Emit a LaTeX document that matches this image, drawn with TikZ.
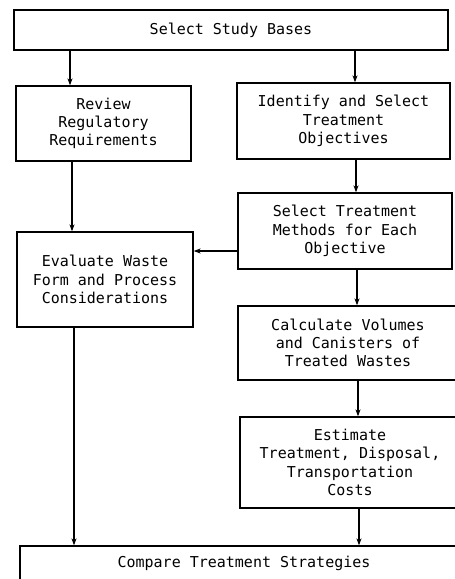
\documentclass[tikz,border=0pt]{standalone}
\usepackage{fontspec}
\setmonofont{DejaVu Sans Mono}
\usetikzlibrary{arrows.meta, positioning}

\begin{document}
\begin{tikzpicture}[
    x=1pt, y=-1pt,
    box/.style={rectangle, draw, line width=1.3pt, inner sep=0pt, align=center, font=\ttfamily\fontsize{15}{18.2}\selectfont},
    arrow/.style={->, >={Stealth[length=7pt, width=5pt]}, line width=1.3pt}
]
\useasboundingbox (0,0) rectangle (455,579);

% Main boxes
\node[box, minimum width=434pt, minimum height=40pt] (bases) at (231,30) {Select Study Bases};
\node[box, minimum width=175pt, minimum height=75pt] (review) at (103.5,123.5) {Review\\Regulatory\\Requirements};
\node[box, minimum width=213pt, minimum height=76pt] (objectives) at (343.5,121) {Identify and Select\\Treatment\\Objectives};
\node[box, minimum width=214pt, minimum height=76pt] (methods) at (345,231) {Select Treatment\\Methods for Each\\Objective};
\node[box, minimum width=176pt, minimum height=95pt] (evaluate) at (105,279.5) {Evaluate Waste\\Form and Process\\Considerations};
\node[box, minimum width=220pt, minimum height=74pt] (volumes) at (348,343) {Calculate Volumes\\and Canisters of\\Treated Wastes};
\node[box, minimum width=220pt, minimum height=91pt] (costs) at (350,462.5) {Estimate\\Treatment, Disposal,\\Transportation\\Costs};
\node[box, minimum width=448pt, minimum height=34pt] (compare) at (244,563) {Compare Treatment Strategies};

% Arrows
\coordinate (feedback) at ([yshift=-20pt]methods.west);
\draw[arrow] ([xshift=-33.5pt]review.north |- bases.south) -- ([xshift=-33.5pt]review.north);
\draw[arrow] ([xshift=11.5pt]objectives.north |- bases.south) -- ([xshift=11.5pt]objectives.north);
\draw[arrow] ([xshift=11pt]methods.north |- objectives.south) -- ([xshift=11pt]methods.north);
\draw[arrow] ([xshift=-33pt]evaluate.north |- review.south) -- ([xshift=-33pt]evaluate.north);
\draw[arrow] (feedback) -- (evaluate.east |- feedback);
\draw[arrow] ([xshift=9pt]volumes.north |- methods.south) -- ([xshift=9pt]volumes.north);
\draw[arrow] ([xshift=8pt]costs.north |- volumes.south) -- ([xshift=8pt]costs.north);
\draw[arrow] ([xshift=-31pt]evaluate.south) -- ([xshift=-31pt]evaluate.south |- compare.north);
\draw[arrow] ([xshift=9pt]costs.south) -- ([xshift=9pt]costs.south |- compare.north);

\end{tikzpicture}
\end{document}
